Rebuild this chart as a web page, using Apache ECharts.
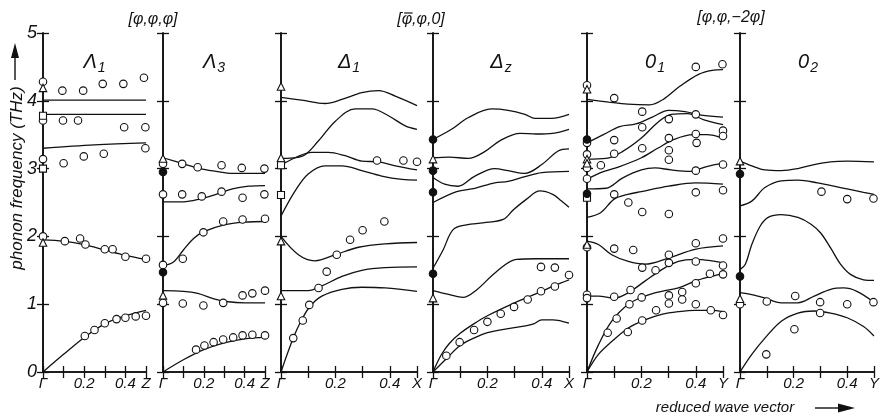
<!DOCTYPE html>
<html>
<head>
<meta charset="utf-8">
<script src="https://cdn.jsdelivr.net/npm/echarts@6/dist/echarts.min.js"></script>
<style>
  html, body { margin: 0; padding: 0; background: #fff; }
  #chart { width: 882px; height: 415px; }
</style>
</head>
<body>
<div id="chart"></div>
<script>
// ---------------- tick labels and panel names ----------------
const freqTicks = ['0', '1', '2', '3', '4', '5'];
const qTickValues = [0, 0.2, 0.4, 0.5];
const panelEnds = ['Z', 'Z', 'X', 'X', 'Y', 'Y'];
const panelSymbols = [['Λ', '1'], ['Λ', '3'], ['Δ', '1'], ['Δ', 'z'], ['0', '1'], ['0', '2']];
const directions = ['[φ,φ,φ]', '[φ,φ,0]', '[φ,φ,−2φ]'];
const barredDirection = 1; // the first φ of this heading carries an overbar

// ---------------- Λ1 branch ----------------
const lambda1Curves = [
  [[0, 0], [0.1, 0.26], [0.2, 0.51], [0.3, 0.71], [0.4, 0.83], [0.5, 0.91]],
  [[0, 1.95], [0.1, 1.93], [0.2, 1.88], [0.3, 1.8], [0.4, 1.72], [0.5, 1.66]],
  [[0, 3.30], [0.25, 3.35], [0.5, 3.38]],
  [[0, 3.80], [0.5, 3.80]],
  [[0, 4.01], [0.5, 4.01]]
];
const lambda1Open = [
  [0, 4.28], [0.094, 4.15], [0.195, 4.15], [0.29, 4.25], [0.39, 4.25], [0.49, 4.34],
  [0, 3.71], [0.097, 3.71], [0.17, 3.71], [0.394, 3.61], [0.497, 3.61],
  [0, 3.14], [0.1, 3.08], [0.198, 3.18], [0.295, 3.22], [0.497, 3.30],
  [0, 2.0], [0.106, 1.93], [0.18, 1.97], [0.206, 1.88], [0.30, 1.81], [0.338, 1.81], [0.40, 1.70], [0.5, 1.67],
  [0.203, 0.53], [0.25, 0.62], [0.30, 0.72], [0.357, 0.78], [0.40, 0.80], [0.45, 0.82], [0.5, 0.83]
];
const lambda1Tri = [[0, 4.19], [0, 1.91]];
const lambda1Sq = [[0, 3.78], [0, 3.0]];
const lambda1Filled = [];

// ---------------- Λ3 branch ----------------
const lambda3Curves = [
  [[0, 0], [0.1, 0.18], [0.2, 0.33], [0.3, 0.43], [0.4, 0.49], [0.5, 0.51]],
  [[0, 1.20], [0.1, 1.19], [0.17, 1.16], [0.25, 1.08], [0.31, 1.04], [0.4, 1.02], [0.5, 1.02]],
  [[0, 1.57], [0.05, 1.62], [0.1, 1.80], [0.15, 1.97], [0.2, 2.07], [0.3, 2.17], [0.4, 2.21], [0.5, 2.22]],
  [[0, 2.51], [0.1, 2.51], [0.18, 2.55], [0.26, 2.62], [0.34, 2.70], [0.42, 2.74], [0.5, 2.75]],
  [[0, 3.16], [0.1, 3.07], [0.18, 3.0], [0.26, 2.96], [0.34, 2.93], [0.5, 2.93]]
];
const lambda3Open = [
  [0, 3.07], [0.094, 3.07], [0.17, 3.02], [0.287, 3.05], [0.386, 3.01], [0.497, 3.0],
  [0, 2.62], [0.094, 2.62], [0.19, 2.59], [0.287, 2.66], [0.39, 2.57], [0.497, 2.62],
  [0, 1.58], [0.097, 1.67], [0.198, 2.06], [0.295, 2.22], [0.39, 2.25], [0.5, 2.26],
  [0, 1.02], [0.097, 1.01], [0.198, 0.98], [0.295, 1.02], [0.39, 1.13], [0.438, 1.16], [0.5, 1.20],
  [0.162, 0.33], [0.203, 0.39], [0.248, 0.44], [0.295, 0.48], [0.344, 0.51], [0.39, 0.54], [0.438, 0.55], [0.5, 0.54]
];
const lambda3Tri = [[0, 3.15], [0, 1.13]];
const lambda3Sq = [];
const lambda3Filled = [[0, 2.95], [0, 1.47]];

// ---------------- Δ1 branch ----------------
const delta1Curves = [
  [[0, 0], [0.045, 0.50], [0.076, 0.77], [0.107, 0.97], [0.15, 1.12], [0.224, 1.22], [0.297, 1.25], [0.383, 1.24], [0.5, 1.19]],
  [[0, 1.20], [0.1, 1.20], [0.15, 1.27], [0.224, 1.41], [0.297, 1.50], [0.383, 1.54], [0.5, 1.55]],
  [[0, 2.0], [0.064, 1.73], [0.125, 1.64], [0.2, 1.73], [0.285, 1.84], [0.383, 1.89], [0.5, 1.91]],
  [[0, 2.30], [0.052, 2.67], [0.1, 2.92], [0.162, 3.04], [0.224, 3.04], [0.297, 2.97], [0.37, 2.89], [0.445, 2.84], [0.5, 2.83]],
  [[0, 3.05], [0.052, 3.16], [0.113, 3.24], [0.174, 3.24], [0.236, 3.19], [0.297, 3.11], [0.359, 3.10], [0.42, 3.04], [0.5, 2.98]],
  [[0, 3.15], [0.076, 3.18], [0.138, 3.41], [0.2, 3.70], [0.273, 3.88], [0.334, 3.88], [0.395, 3.78], [0.457, 3.63], [0.5, 3.58]],
  [[0, 4.05], [0.076, 4.01], [0.162, 3.96], [0.224, 4.02], [0.297, 4.12], [0.359, 4.15], [0.42, 4.07], [0.5, 3.93]]
];
const delta1Open = [
  [0.045, 0.50], [0.08, 0.76], [0.104, 0.99], [0.138, 1.24], [0.168, 1.48], [0.205, 1.73],
  [0.254, 1.95], [0.30, 2.09], [0.38, 2.22], [0.353, 3.12], [0.45, 3.12], [0.5, 3.10]
];
const delta1Tri = [[0, 4.21], [0, 3.16], [0, 1.93], [0, 1.12]];
const delta1Sq = [[0, 3.05], [0, 2.61]];
const delta1Filled = [];

// ---------------- Δz branch ----------------
const deltaZCurves = [
  [[0, 0], [0.05, 0.2], [0.1, 0.39], [0.15, 0.5], [0.2, 0.58], [0.26, 0.63], [0.34, 0.68], [0.37, 0.71], [0.4, 0.77], [0.44, 0.77], [0.5, 0.72]],
  [[0, 0], [0.03, 0.25], [0.06, 0.42], [0.1, 0.57], [0.15, 0.71], [0.2, 0.83], [0.3, 1.02], [0.4, 1.19], [0.45, 1.28], [0.5, 1.36]],
  [[0, 1.20], [0.061, 1.14], [0.11, 1.10], [0.16, 1.21], [0.233, 1.48], [0.307, 1.66], [0.38, 1.67], [0.5, 1.67]],
  [[0, 1.53], [0.037, 1.80], [0.074, 2.10], [0.123, 2.17], [0.184, 2.20], [0.258, 2.25], [0.295, 2.39], [0.344, 2.55], [0.393, 2.67], [0.44, 2.62], [0.47, 2.53], [0.5, 2.43]],
  [[0, 2.50], [0.087, 2.66], [0.154, 2.71], [0.227, 2.79], [0.276, 2.81], [0.338, 2.88], [0.4, 2.94], [0.5, 2.96]],
  [[0, 2.87], [0.043, 2.77], [0.092, 2.74], [0.154, 2.89], [0.227, 3.0], [0.276, 2.97], [0.338, 2.93], [0.4, 3.06], [0.46, 3.26], [0.5, 3.29]],
  [[0, 3.16], [0.06, 3.17], [0.13, 3.15], [0.19, 3.25], [0.25, 3.42], [0.32, 3.52], [0.38, 3.51], [0.44, 3.52], [0.5, 3.58]],
  [[0, 3.43], [0.068, 3.58], [0.129, 3.75], [0.215, 3.88], [0.276, 3.86], [0.338, 3.80], [0.375, 3.74], [0.436, 3.74], [0.5, 3.80]]
];
const deltaZOpen = [
  [0.049, 0.24], [0.098, 0.44], [0.151, 0.62], [0.2, 0.74], [0.249, 0.86], [0.298, 0.96],
  [0.348, 1.07], [0.397, 1.19], [0.448, 1.26], [0.5, 1.43], [0.397, 1.55], [0.448, 1.54]
];
const deltaZTri = [[0, 3.14], [0, 1.09]];
const deltaZSq = [];
const deltaZFilled = [[0, 3.43], [0, 2.97], [0, 2.65], [0, 1.45]];

// ---------------- O1 branch ----------------
const o1Curves = [
  [[0, 0], [0.042, 0.26], [0.091, 0.45], [0.152, 0.65], [0.213, 0.77], [0.275, 0.85], [0.336, 0.89], [0.397, 0.91], [0.458, 0.91], [0.5, 0.89]],
  [[0, 0], [0.042, 0.40], [0.091, 0.75], [0.152, 1.0], [0.213, 1.12], [0.275, 1.19], [0.336, 1.24], [0.397, 1.34], [0.458, 1.41], [0.5, 1.45]],
  [[0, 1.12], [0.042, 1.12], [0.1, 1.09], [0.152, 1.17], [0.213, 1.34], [0.275, 1.51], [0.336, 1.63], [0.397, 1.66], [0.458, 1.64], [0.5, 1.61]],
  [[0, 1.93], [0.042, 1.88], [0.091, 1.73], [0.152, 1.63], [0.213, 1.59], [0.299, 1.68], [0.397, 1.81], [0.5, 1.86]],
  [[0, 2.28], [0.05, 2.35], [0.1, 2.55], [0.15, 2.62], [0.2, 2.66], [0.3, 2.74], [0.4, 2.79], [0.5, 2.77]],
  [[0, 2.70], [0.07, 2.71], [0.13, 2.86], [0.2, 2.98], [0.25, 3.01], [0.31, 2.98], [0.38, 2.96], [0.44, 3.03], [0.5, 3.08]],
  [[0, 2.84], [0.05, 2.94], [0.12, 3.03], [0.2, 3.16], [0.26, 3.30], [0.32, 3.43], [0.39, 3.50], [0.44, 3.50], [0.5, 3.45]],
  [[0, 3.14], [0.07, 3.15], [0.13, 3.25], [0.2, 3.45], [0.26, 3.68], [0.31, 3.80], [0.37, 3.81], [0.43, 3.72], [0.5, 3.65]],
  [[0, 3.38], [0.06, 3.50], [0.12, 3.62], [0.18, 3.66], [0.24, 3.76], [0.3, 3.86], [0.36, 3.84], [0.42, 3.79], [0.5, 3.76]],
  [[0, 4.02], [0.08, 3.98], [0.15, 3.95], [0.23, 3.94], [0.28, 4.02], [0.34, 4.21], [0.41, 4.39], [0.46, 4.45], [0.5, 4.46]]
];
const o1Open = [
  [0, 4.23], [0.1, 4.04], [0.4, 4.50], [0.498, 4.54],
  [0, 3.38], [0.203, 3.84], [0.301, 3.73], [0.4, 3.80], [0.203, 3.61], [0.5, 3.56], [0.5, 3.48],
  [0.1, 3.42], [0.301, 3.45], [0.4, 3.51], [0.403, 3.38], [0.1, 3.22], [0.203, 3.30], [0.301, 3.27], [0.301, 3.13],
  [0, 3.21], [0, 3.01], [0, 2.85], [0.051, 3.05], [0.4, 2.97], [0.5, 3.06],
  [0.1, 2.62], [0.152, 2.50], [0.203, 2.36], [0.301, 2.33], [0.4, 2.65], [0.5, 2.68],
  [0, 1.84], [0.1, 1.82], [0.17, 1.80], [0.301, 1.73], [0.4, 1.90], [0.5, 1.97],
  [0, 1.14], [0, 1.09], [0.1, 1.11], [0.16, 1.21], [0.203, 1.54], [0.252, 1.50], [0.301, 1.61], [0.4, 1.63], [0.5, 1.57],
  [0.076, 0.58], [0.109, 0.79], [0.156, 1.0], [0.201, 1.10], [0.301, 1.13], [0.301, 1.01], [0.35, 1.18], [0.35, 1.07],
  [0.4, 1.31], [0.4, 1.0], [0.452, 1.45], [0.5, 1.44],
  [0.15, 0.59], [0.203, 0.76], [0.254, 0.91], [0.455, 0.91], [0.5, 0.84]
];
const o1Tri = [[0, 4.17], [0, 3.14], [0, 3.08], [0, 1.88]];
const o1Sq = [[0, 2.57]];
const o1Filled = [[0, 3.43], [0, 2.63]];

// ---------------- O2 branch ----------------
const o2Curves = [
  [[0, 0], [0.044, 0.26], [0.093, 0.50], [0.154, 0.75], [0.216, 0.87], [0.277, 0.90], [0.338, 0.87], [0.4, 0.80], [0.461, 0.67], [0.5, 0.53]],
  [[0, 1.17], [0.044, 1.14], [0.093, 1.09], [0.154, 1.02], [0.216, 1.02], [0.277, 1.12], [0.338, 1.22], [0.387, 1.24], [0.436, 1.19], [0.5, 1.03]],
  [[0, 1.51], [0.02, 1.59], [0.044, 1.88], [0.075, 2.15], [0.105, 2.28], [0.154, 2.32], [0.216, 2.28], [0.265, 2.18], [0.301, 2.05], [0.338, 1.83], [0.375, 1.59], [0.412, 1.44], [0.461, 1.36], [0.5, 1.35]],
  [[0, 2.45], [0.044, 2.52], [0.093, 2.72], [0.154, 2.82], [0.216, 2.83], [0.289, 2.79], [0.375, 2.72], [0.461, 2.65], [0.5, 2.62]],
  [[0, 3.11], [0.044, 3.04], [0.093, 2.98], [0.154, 2.97], [0.216, 3.0], [0.277, 3.06], [0.338, 3.10], [0.4, 3.11], [0.5, 3.10]]
];
const o2Open = [
  [0.304, 2.66], [0.4, 2.55], [0.498, 2.56],
  [0, 1.0], [0.1, 1.04], [0.206, 1.12], [0.299, 1.03], [0.4, 1.0], [0.498, 1.03],
  [0.299, 0.87], [0.203, 0.63], [0.098, 0.26]
];
const o2Tri = [[0, 3.11], [0, 1.08]];
const o2Sq = [];
const o2Filled = [[0, 2.92], [0, 1.41]];

// ---------------- layout ----------------
const gridLefts = [43, 163, 281, 433, 587, 740];
const gridWidths = [103, 102, 136, 136, 136, 136];
const gridTop = 33;
const gridHeight = 339;
const FONT = '"Liberation Sans", Arial, Helvetica, sans-serif';
const headingSize = 16;
const symbolSize = 20;
const subSize = 14;

const panels = [
  { curves: lambda1Curves, open: lambda1Open, tri: lambda1Tri, sq: lambda1Sq, filled: lambda1Filled },
  { curves: lambda3Curves, open: lambda3Open, tri: lambda3Tri, sq: lambda3Sq, filled: lambda3Filled },
  { curves: delta1Curves, open: delta1Open, tri: delta1Tri, sq: delta1Sq, filled: delta1Filled },
  { curves: deltaZCurves, open: deltaZOpen, tri: deltaZTri, sq: deltaZSq, filled: deltaZFilled },
  { curves: o1Curves, open: o1Open, tri: o1Tri, sq: o1Sq, filled: o1Filled },
  { curves: o2Curves, open: o2Open, tri: o2Tri, sq: o2Sq, filled: o2Filled }
];

const frameLine = { lineStyle: { color: '#111', width: 1.6 } };
const tickStyle = { show: true, inside: true, length: 6, lineStyle: { color: '#111', width: 1.3 } };

const measure = document.createElement('canvas').getContext('2d');
const textWidth = (txt, size) => {
  measure.font = 'italic ' + size + 'px ' + FONT;
  return measure.measureText(txt).width;
};

const grid = [], xAxis = [], yAxis = [], series = [], graphic = [];

panels.forEach((p, i) => {
  grid.push({ left: gridLefts[i], top: gridTop, width: gridWidths[i], height: gridHeight });

  const qLabel = (v) => {
    const k = qTickValues.findIndex(t => Math.abs(t - v) < 1e-6);
    if (k < 0) return '';
    if (k === 0) return 'Γ';
    if (k === qTickValues.length - 1) return panelEnds[i];
    return qTickValues[k].toFixed(1);
  };

  // bottom and top q axes
  xAxis.push({
    gridIndex: i, type: 'value', min: 0, max: 0.5, interval: 0.1, position: 'bottom',
    axisLine: { show: true, ...frameLine }, axisTick: tickStyle, splitLine: { show: false },
    axisLabel: {
      show: true, formatter: qLabel, margin: 4, showMinLabel: true, showMaxLabel: true,
      fontFamily: FONT, fontStyle: 'italic', fontSize: 15, color: '#111'
    }
  });
  xAxis.push({
    gridIndex: i, type: 'value', min: 0, max: 0.5, interval: 0.1, position: 'top',
    axisLine: { show: true, ...frameLine }, axisTick: tickStyle, splitLine: { show: false },
    axisLabel: { show: false }
  });
  // left and right frequency axes
  yAxis.push({
    gridIndex: i, type: 'value', min: 0, max: 5, interval: 1, position: 'left',
    axisLine: { show: true, ...frameLine }, axisTick: tickStyle, splitLine: { show: false },
    axisLabel: {
      show: i === 0, formatter: (v) => freqTicks[Math.round(v)], margin: 6,
      showMinLabel: true, showMaxLabel: true,
      fontFamily: FONT, fontStyle: 'italic', fontSize: 18, color: '#111'
    }
  });
  yAxis.push({
    gridIndex: i, type: 'value', min: 0, max: 5, interval: 1, position: 'right',
    axisLine: { show: true, ...frameLine }, axisTick: tickStyle, splitLine: { show: false },
    axisLabel: { show: false }
  });

  const xi = 2 * i, yi = 2 * i;
  p.curves.forEach(c => {
    series.push({
      type: 'line', xAxisIndex: xi, yAxisIndex: yi, data: c, smooth: 0.35,
      showSymbol: false, symbol: 'none', silent: true, z: 3,
      lineStyle: { color: '#111', width: 1.3 }
    });
  });
  const marks = [
    { data: p.open, symbol: 'circle', size: 7.5, fill: '#fff' },
    { data: p.tri, symbol: 'triangle', size: 7.5, fill: '#fff' },
    { data: p.sq, symbol: 'rect', size: 7, fill: '#fff' },
    { data: p.filled, symbol: 'circle', size: 7.5, fill: '#111' }
  ];
  marks.forEach(m => {
    if (!m.data.length) return;
    series.push({
      type: 'scatter', xAxisIndex: xi, yAxisIndex: yi, data: m.data, clip: false,
      symbol: m.symbol, symbolSize: m.size, silent: true, z: 5,
      itemStyle: { color: m.fill, borderColor: '#111', borderWidth: 1.1, opacity: 1 }
    });
  });

  // branch symbol with its subscript, centred in each panel
  const cx = gridLefts[i] + gridWidths[i] / 2;
  const wMain = textWidth(panelSymbols[i][0], symbolSize);
  const wSub = textWidth(panelSymbols[i][1], subSize);
  const start = cx - (wMain + 1 + wSub) / 2;
  graphic.push({
    type: 'text', x: start, y: 62, silent: true,
    style: { text: panelSymbols[i][0], fontFamily: FONT, fontStyle: 'italic', fontSize: symbolSize,
             fill: '#111', align: 'left', verticalAlign: 'middle' }
  });
  graphic.push({
    type: 'text', x: start + wMain + 1, y: 68, silent: true,
    style: { text: panelSymbols[i][1], fontFamily: FONT, fontStyle: 'italic', fontSize: subSize,
             fill: '#111', align: 'left', verticalAlign: 'middle' }
  });
});

// direction headings over each pair of panels
const headingX = [153, 421, 731];
const headingY = [20, 20, 18];
directions.forEach((d, k) => {
  graphic.push({
    type: 'text', x: headingX[k], y: headingY[k], silent: true,
    style: { text: d, fontFamily: FONT, fontStyle: 'italic', fontSize: headingSize,
             fill: '#111', align: 'center', verticalAlign: 'middle' }
  });
  if (k === barredDirection) {
    // overbar above the first φ
    const left = headingX[k] - textWidth(d, headingSize) / 2;
    const a = left + textWidth('[', headingSize);
    const b = left + textWidth('[φ', headingSize);
    graphic.push({ type: 'line', silent: true,
      shape: { x1: a + 2.5, y1: headingY[k] - 7, x2: b + 0.5, y2: headingY[k] - 7 },
      style: { stroke: '#111', lineWidth: 1.2 } });
  }
});

// axis titles with arrows
graphic.push({
  type: 'text', x: 17, y: 178, rotation: Math.PI / 2, silent: true,
  style: { text: 'phonon frequency (THz)', fontFamily: FONT, fontStyle: 'italic', fontSize: 17,
           fill: '#111', align: 'center', verticalAlign: 'middle' }
});
graphic.push({ type: 'line', silent: true, shape: { x1: 15, y1: 80, x2: 15, y2: 56 },
               style: { stroke: '#111', lineWidth: 1.4 } });
graphic.push({ type: 'polygon', silent: true, shape: { points: [[15, 43], [11, 58], [19, 58]] },
               style: { fill: '#111' } });

graphic.push({
  type: 'text', x: 725, y: 408, silent: true,
  style: { text: 'reduced wave vector', fontFamily: FONT, fontStyle: 'italic', fontSize: 15,
           fill: '#111', align: 'center', verticalAlign: 'middle' }
});
graphic.push({ type: 'line', silent: true, shape: { x1: 815, y1: 408, x2: 840, y2: 408 },
               style: { stroke: '#111', lineWidth: 1.4 } });
graphic.push({ type: 'polygon', silent: true, shape: { points: [[855, 408], [838, 403.5], [838, 412.5]] },
               style: { fill: '#111' } });

const chart = echarts.init(document.getElementById('chart'), null, { renderer: 'canvas' });
chart.setOption({
  animation: false,
  backgroundColor: '#fff',
  grid, xAxis, yAxis, series, graphic
});
</script>
</body>
</html>
